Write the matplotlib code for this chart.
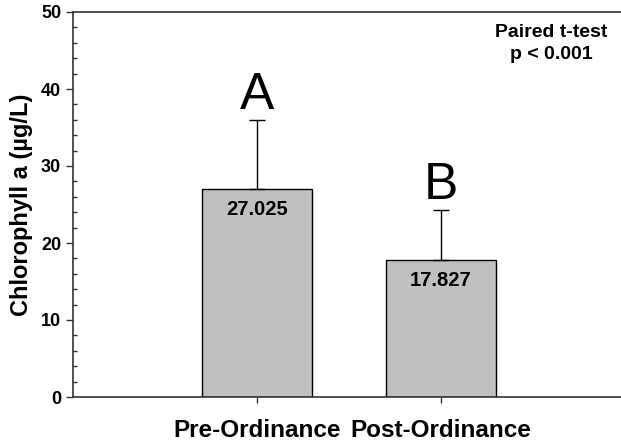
import matplotlib
matplotlib.use('Agg')
import matplotlib.pyplot as plt
from matplotlib.ticker import MultipleLocator

plt.rcParams['font.family'] = ['Liberation Sans', 'DejaVu Sans']

groups = ['Pre-Ordinance', 'Post-Ordinance']
means = [27.025, 17.827]
errors = [8.9, 6.4]
letters = ['A', 'B']

fig = plt.figure(figsize=(6.21, 4.44), dpi=100)
ax = fig.add_axes([73 / 621, 47 / 444, 548 / 621, 385 / 444])

x = range(len(groups))
ax.bar(x, means, width=0.6, color='#c0c0c0', edgecolor='black', linewidth=1.0, zorder=2)
ax.errorbar(x, means, yerr=[[0, 0], errors], fmt='none', ecolor='black',
            elinewidth=1.0, capsize=5.5, capthick=1.0, zorder=3)

for xi, m, e, let in zip(x, means, errors, letters):
    ax.text(xi, m - 1.4, f'{m:.3f}', ha='center', va='top', fontsize=14.5, fontweight='bold')
    ax.text(xi, m + e + 0.1, let, ha='center', va='bottom', fontsize=37)

ax.text(1.6, 48.4, 'Paired t-test\np < 0.001', ha='center', va='top',
        fontsize=14, fontweight='bold', linespacing=1.35)

ax.set_xlim(-1, 1.98)
ax.set_ylim(0, 50)
ax.yaxis.set_major_locator(MultipleLocator(10))
ax.yaxis.set_minor_locator(MultipleLocator(2))
ax.set_xticks(list(x))
ax.set_xticklabels(groups, fontsize=17.5, fontweight='bold')
ax.tick_params(axis='x', length=4, width=1, pad=12, color='#333333')
ax.tick_params(axis='y', which='major', length=5, width=1, direction='out',
               labelsize=13, color='#333333')
ax.tick_params(axis='y', which='minor', length=3, width=1, direction='in', color='#333333')
for lbl in ax.get_yticklabels():
    lbl.set_fontweight('bold')
ax.set_ylabel('Chlorophyll a (µg/L)', fontsize=17, fontweight='bold', labelpad=6)

ax.spines['right'].set_visible(False)
for s in ['left', 'top', 'bottom']:
    ax.spines[s].set_color('#333333')
    ax.spines[s].set_linewidth(1.2)

fig.savefig('out.png', dpi=100)
